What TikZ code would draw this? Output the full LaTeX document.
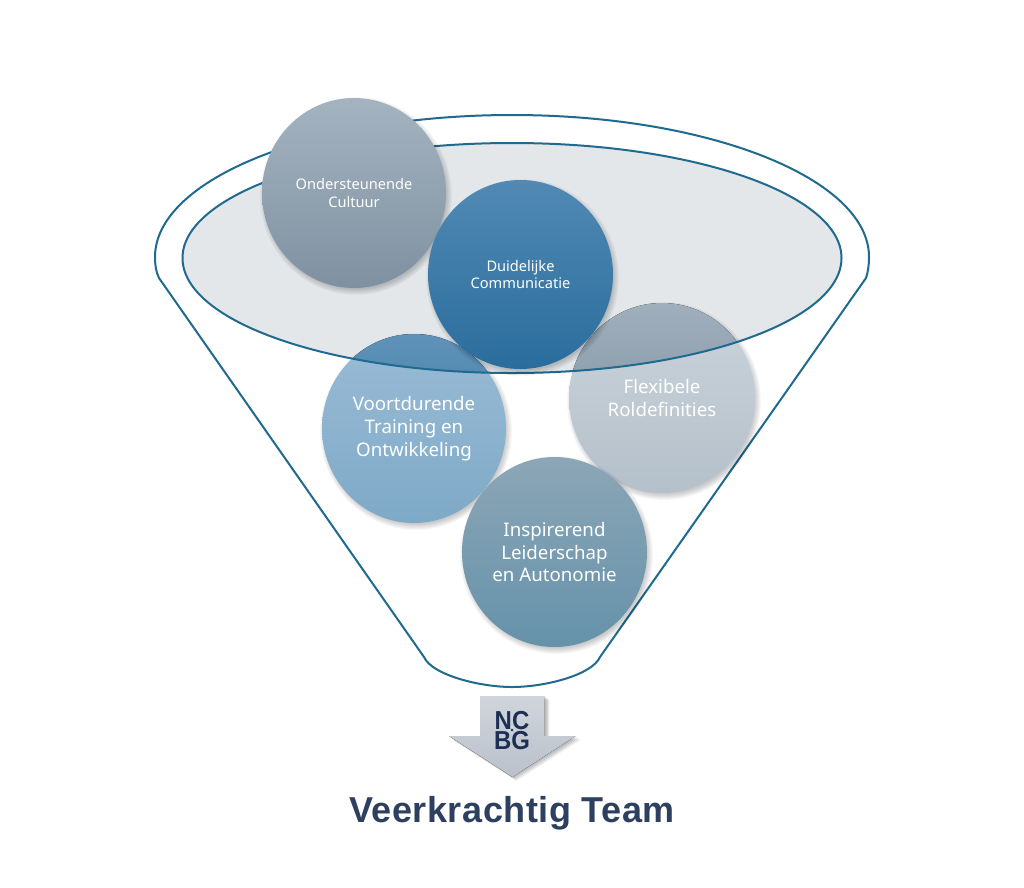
\documentclass[tikz,border=0pt]{standalone}
\usepackage{fontspec}
\usetikzlibrary{shapes.geometric}
\setmainfont{Noto Sans}
\newfontfamily\logofont[FakeStretch=0.92]{Liberation Sans}
\newfontfamily\titlefont[LetterSpace=1.5]{Liberation Sans}
\definecolor{funnelline}{HTML}{1F6A8E}
\definecolor{bowlfill}{HTML}{E3E7EA}
\definecolor{navy}{HTML}{2E4060}
\definecolor{logonavy}{HTML}{1E2F55}
\definecolor{flexA}{HTML}{CBD4DB}
\definecolor{flexB}{HTML}{B4C0CA}
\definecolor{flexC}{HTML}{A0AFBC}
\definecolor{flexD}{HTML}{74889B}
\definecolor{voortA}{HTML}{9ABCD6}
\definecolor{voortB}{HTML}{7EA9C7}
\definecolor{voortC}{HTML}{5F92B8}
\definecolor{voortD}{HTML}{2F6F9C}
\definecolor{inspA}{HTML}{8CA6B6}
\definecolor{inspB}{HTML}{6592AA}
\definecolor{onderA}{HTML}{A4B3C0}
\definecolor{onderB}{HTML}{7F91A1}
\definecolor{duidA}{HTML}{5189B4}
\definecolor{duidB}{HTML}{2A6D9D}
\definecolor{arrowA}{HTML}{D0D5DC}
\definecolor{arrowB}{HTML}{BAC1CB}
\tikzset{
  funnelstroke/.style={draw=funnelline,line width=2pt},
  ball/.style={ellipse,inner sep=0pt,outer sep=0pt,text=white,align=center,minimum width=#1},
  smallball/.style={font=\fontsize{14.6}{17.5}\selectfont},
  bigball/.style={font=\fontsize{18.7}{22.8}\selectfont},
}
% soft shadow: centre x, centre y, rx, ry
\newcommand{\softshadow}[4]{%
  \foreach \d in {4,3,2,1,0,-1,-2}{%
    \fill[black,opacity=0.03] (#1+2,#2+3) ellipse [x radius=#3+\d,y radius=#4+\d];
  }%
}
\begin{document}
\begin{tikzpicture}[x=1pt,y=-1pt]
\useasboundingbox (0,0) rectangle (1024,887);
\fill[white] (0,0) rectangle (1024,887);
% funnel outline
\draw[funnelstroke,line join=round]
  (159,278) .. controls (156,272) and (155,265) .. (155,257)
  .. controls (155,178.6) and (315,115) .. (512,115)
  .. controls (709,115) and (869,178.6) .. (869,257)
  .. controls (869,265) and (868,272) .. (866,278)
  -- (600,657)
  .. controls (592,675) and (545,687) .. (512,687)
  .. controls (480,687) and (432,675) .. (424,657)
  -- cycle;
% bowl
\fill[bowlfill] (512,258) ellipse [x radius=329.5,y radius=115];
% Flexibele
\softshadow{662}{398}{93}{95}
\node[ball=186pt,minimum height=190pt,top color=flexA,bottom color=flexB,bigball] (flex) at (662,398) {Flexibele\\Roldefinities};
% Voortdurende
\softshadow{414}{428.5}{92}{94.5}
\node[ball=184pt,minimum height=189pt,top color=voortA,bottom color=voortB,bigball] (voort) at (414,428.5) {Voortdurende\\Training en\\Ontwikkeling};
\begin{scope}
  \clip (512,258) ellipse [x radius=329.5,y radius=115];
  \fill[top color=flexC,bottom color=flexD] (662,398) ellipse [x radius=93,y radius=95];
  \fill[top color=voortC,bottom color=voortD] (414,428.5) ellipse [x radius=92,y radius=94.5];
\end{scope}
\draw[funnelstroke] (512,258) ellipse [x radius=329.5,y radius=115];
% Inspirerend
\softshadow{554.5}{552}{92.5}{95}
\node[ball=185pt,minimum height=190pt,top color=inspA,bottom color=inspB,bigball] (insp) at (554.5,552) {Inspirerend\\Leiderschap\\en Autonomie};
% Ondersteunende
\softshadow{354}{193}{92}{95}
\node[ball=184pt,minimum height=190pt,top color=onderA,bottom color=onderB,smallball] (onder) at (354,193) {Ondersteunende\\Cultuur};
% Duidelijke
\softshadow{520.5}{274.5}{92.5}{94.5}
\node[ball=185pt,minimum height=189pt,top color=duidA,bottom color=duidB,smallball] (duid) at (520.5,274.5) {Duidelijke\\Communicatie};
% block arrow
\foreach \d in {0.5,1,1.5,2,2.5,3,3.5,4}{
  \fill[black,opacity=0.035] (480+\d+1.5,696+\d) -- (544+\d+1.5,696+\d) -- (544+\d+1.5,736+\d) -- (575.5+\d+1.5,736+\d) -- (512.5+\d,777+\d) -- (449+\d,736+\d) -- (480+\d,736+\d) -- cycle;
}
\fill[top color=arrowA,bottom color=arrowB]
  (480,696) -- (544,696) -- (544,736) -- (575.5,736) -- (512.5,777) -- (449,736) -- (480,736) -- cycle;
% logo
\node[inner sep=0pt,align=center,text=logonavy,font={\logofont\bfseries\fontsize{26}{20.6}\selectfont}] (logo) at (512,730.5) {NC\\BG};
\fill[white] (512,726) -- (513,729) -- (516,730) -- (513,731) -- (512,734) -- (511,731) -- (508,730) -- (511,729) -- cycle;
\fill[logonavy] (512,727.5) -- (512.6,729.4) -- (514.5,730) -- (512.6,730.6) -- (512,732.5) -- (511.4,730.6) -- (509.5,730) -- (511.4,729.4) -- cycle;
% title
\node[inner sep=0pt,anchor=base,text=navy,font={\titlefont\bfseries\fontsize{36}{36}\selectfont}] (title) at (512,822) {Veerkrachtig Team};
\end{tikzpicture}
\end{document}
